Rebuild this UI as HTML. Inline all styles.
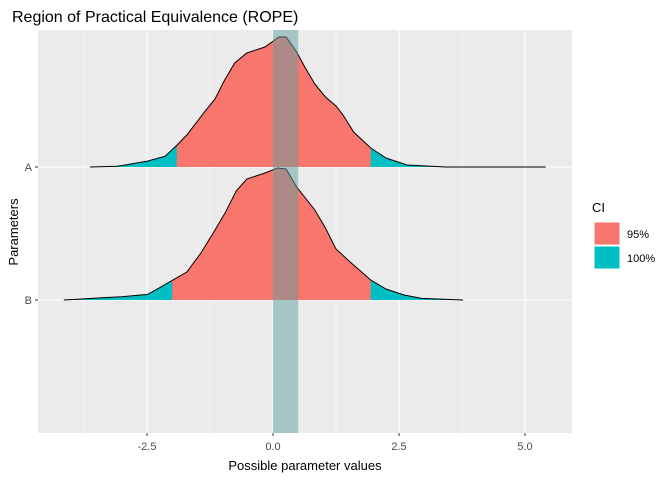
<!DOCTYPE html>
<html><head><meta charset="utf-8"><style>
body{margin:0;background:#fff;font-family:"Liberation Sans",Arial,sans-serif}
svg text{font-family:"Liberation Sans",Arial,sans-serif}
</style></head><body>
<svg id="c" width="672" height="480" xmlns="http://www.w3.org/2000/svg">
<rect width="672" height="480" fill="#fff"/>
<text x="12" y="22" font-size="16" fill="#000">Region of Practical Equivalence (ROPE)</text>
<rect x="38" y="30" width="534" height="403" fill="#EBEBEB"/>
<g id="grid"></g>
<g id="ridges"></g>
<g id="axes"></g>
<text x="305" y="470" font-size="13" text-anchor="middle" fill="#000">Possible parameter values</text>
<text transform="translate(18,232) rotate(-90)" font-size="13" text-anchor="middle" fill="#000">Parameters</text>
<g>
<text x="592" y="212" font-size="13" fill="#000">CI</text>
<rect x="594" y="222" width="26" height="23" fill="#F8766D" stroke="#fff"/>
<text x="627" y="238" font-size="11" fill="#000">95%</text>
<rect x="594" y="246" width="26" height="23" fill="#00BFC4" stroke="#fff"/>
<text x="627" y="262" font-size="11" fill="#000">100%</text>
</g>
</svg>
<script>
const categories = ["A","B"];
const xTicks = [-2.5, 0, 2.5, 5];
const xTickLabels = ["-2.5","0.0","2.5","5.0"];
const minorTicks = [-3.75,-1.25,1.25,3.75];
const ropeRange = [0, 0.5];
const ciA = [-1.91, 1.94];
const ciB = [-2.0, 1.94];
const xA = [-3.63,-3.09,-2.49,-2.14,-1.91,-1.71,-1.36,-1.15,-0.97,-0.76,-0.52,-0.16,0.12,0.26,0.47,0.62,0.83,1.04,1.25,1.39,1.60,1.94,2.24,2.66,3.43,5.41];
const dA = [0,0.7,5.9,10.8,21.6,32,55,68,86,104,114,120,130,130,115,101,83,70,61,52,35,19,9,2,0,0];
const xB = [-4.15,-3.8,-3.4,-3.0,-2.49,-2.28,-2.0,-1.71,-1.43,-1.15,-0.94,-0.73,-0.52,-0.16,0.09,0.26,0.47,0.83,1.04,1.25,1.53,1.94,2.24,2.60,2.95,3.77];
const dB = [0,1,2.3,3.3,5.6,11.4,19.6,28,47,70,88,109,121,127,132,131,113,90,72,51,38,20,11,5,1.6,0];

const NS="http://www.w3.org/2000/svg";
const X = v => 273 + v*50.4;
const Y = i => 167 + i*133;
const H = d => d;
function mk(tag, attrs, parent){const e=document.createElementNS(NS,tag);for(const k in attrs)e.setAttribute(k,attrs[k]);parent.appendChild(e);return e;}
const svg=document.getElementById('c');
const grid=document.getElementById('grid'), ridges=document.getElementById('ridges'), axes=document.getElementById('axes');
minorTicks.forEach(v=>{const l=mk('line',{x1:X(v),x2:X(v),y1:30,y2:433,stroke:'#fff','stroke-width':0.55},grid);

});
xTicks.forEach((v,i)=>{const l=mk('line',{x1:X(v),x2:X(v),y1:30,y2:433,stroke:'#fff','stroke-width':1.1},grid);


const t=mk('line',{x1:X(v),x2:X(v),y1:433,y2:436,stroke:'#333','stroke-width':1},axes);


const tx=mk('text',{x:X(v),y:450,'font-size':11,'text-anchor':'middle',fill:'#4D4D4D'},axes);tx.textContent=xTickLabels[i];

});
categories.forEach((c,i)=>{const l=mk('line',{x1:38,x2:572,y1:Y(i),y2:Y(i),stroke:'#fff','stroke-width':1.1},grid);


const t=mk('line',{x1:35,x2:38,y1:Y(i),y2:Y(i),stroke:'#333'},axes);


const tx=mk('text',{x:32,y:Y(i)+4,'font-size':11,'text-anchor':'end',fill:'#4D4D4D'},axes);tx.textContent=c;

});
const defs=mk('defs',{},svg);
const series=[[xA,dA,ciA],[xB,dB,ciB]];
series.forEach(([xs,ds,ci],i)=>{
  const base=Y(i);
  let d='M'+X(xs[0])+','+base;
  xs.forEach((x,j)=>{d+=' L'+X(x)+','+(base-H(ds[j]));});
  d+=' L'+X(xs[xs.length-1])+','+base+' Z';
  let line='M'+xs.map((x,j)=>X(x)+','+(base-H(ds[j]))).join(' L');
  const cp=mk('clipPath',{id:'ci'+i},defs);
  mk('rect',{x:X(ci[0]),y:0,width:X(ci[1])-X(ci[0]),height:480},cp);
  const g=mk('g',{},ridges);
  
  
  const a=mk('path',{d:d,fill:'#00BFC4'},g);
  
  
  const b=mk('path',{d:d,fill:'#F8766D','clip-path':'url(#ci'+i+')'},g);
  
  
  const o=mk('path',{d:line,fill:'none',stroke:'#000','stroke-width':1},g);
  
  
});
const r=mk('rect',{x:X(ropeRange[0]),y:30,width:X(ropeRange[1])-X(ropeRange[0]),height:403,fill:'rgb(95,158,160)','fill-opacity':0.5},ridges);


</script>
</body></html>
